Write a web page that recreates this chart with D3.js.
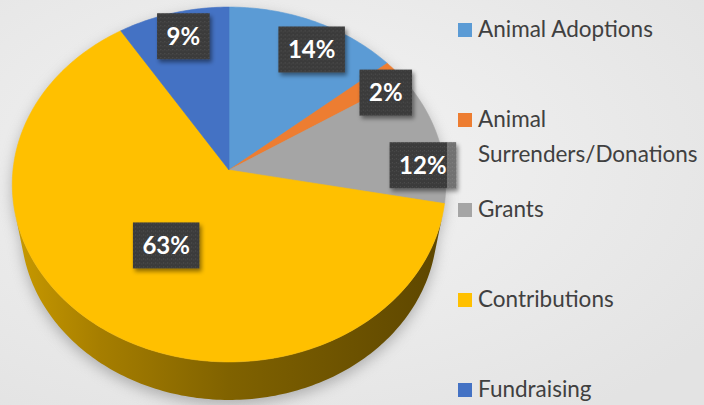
<!DOCTYPE html>
<html>
<head>
<meta charset="utf-8">
<script src="https://cdn.jsdelivr.net/npm/d3@7"></script>
<style>
  html, body { margin: 0; padding: 0; background: #ececec; }
  svg { display: block; }
</style>
</head>
<body>
<div id="chart"></div>
<script>
// revenue sources, clockwise from 12 o'clock
const categories = ['Animal Adoptions', 'Animal Surrenders/Donations', 'Grants', 'Contributions', 'Fundraising'];
const shares = [14, 2, 12, 63, 9];
const colors = ['#5b9bd5', '#ed7d31', '#a5a5a5', '#ffc000', '#4472c4'];
const legendLines = [['Animal Adoptions'], ['Animal', 'Surrenders/Donations'], ['Grants'], ['Contributions'], ['Fundraising']];

// where each data label sits: [fraction across slice, fraction of radius]
const labelAt = [[0.58, 0.83], [1.17, 0.88], [0.71, 0.9], [0.5, 0.5], [0.52, 0.84]];

const width = 704, height = 405;

// camera for the tilted pie (perspective like the office 3-D pie)
const cam = { cx: 229, cy: 170, f: 1527, dist: 7.07, tilt: Math.asin(0.816), depth: 0.355 };

function project(x, y, z) {
  // y is up, z points at the viewer
  const up = y * Math.cos(cam.tilt) - z * Math.sin(cam.tilt);
  const toward = y * Math.sin(cam.tilt) + z * Math.cos(cam.tilt);
  const s = cam.f / (cam.dist - toward);
  return [cam.cx + x * s, cam.cy - up * s];
}
const rim = (a, r, y) => project(r * Math.sin(a), y, -r * Math.cos(a));

const svg = d3.select('#chart').append('svg')
  .attr('width', width)
  .attr('height', height);

const defs = svg.append('defs');

const bg = defs.append('radialGradient').attr('id', 'bg')
  .attr('cx', '40%').attr('cy', '40%').attr('r', '75%');
bg.append('stop').attr('offset', 0).attr('stop-color', '#f4f4f4');
bg.append('stop').attr('offset', 1).attr('stop-color', '#e3e3e3');

const side = defs.append('linearGradient').attr('id', 'side')
  .attr('gradientUnits', 'userSpaceOnUse')
  .attr('x1', 13).attr('x2', 445).attr('y1', 0).attr('y2', 0);
[[0, '#c99a00'], [0.2, '#a67e00'], [0.5, '#806200'], [1, '#5d4600']].forEach(s => {
  side.append('stop').attr('offset', s[0]).attr('stop-color', s[1]);
});

defs.append('filter').attr('id', 'soft')
  .attr('x', '-20%').attr('y', '-20%').attr('width', '140%').attr('height', '140%')
  .append('feGaussianBlur').attr('stdDeviation', 7);

const drop = defs.append('filter').attr('id', 'drop')
  .attr('x', '-30%').attr('y', '-30%').attr('width', '160%').attr('height', '160%');
drop.append('feDropShadow').attr('dx', 2).attr('dy', 3).attr('stdDeviation', 2)
  .attr('flood-color', '#000').attr('flood-opacity', 0.45);

// speckled texture of the label boxes
const pat = defs.append('pattern').attr('id', 'speck')
  .attr('width', 4).attr('height', 4).attr('patternUnits', 'userSpaceOnUse');
pat.append('rect').attr('width', 4).attr('height', 4).attr('fill', '#3b3b3b');
pat.append('rect').attr('x', 1).attr('y', 1).attr('width', 1).attr('height', 1).attr('fill', '#555');
pat.append('rect').attr('x', 3).attr('y', 2).attr('width', 1).attr('height', 1).attr('fill', '#4a4a4a');

svg.append('rect').attr('width', width).attr('height', height).attr('fill', 'url(#bg)');

const pie = d3.pie().sort(null).value(d => d);
const arcs = pie(shares);

const line = d3.line();
const steps = a => d3.range(a.startAngle, a.endAngle, Math.PI / 180).concat([a.endAngle]);

// soft shadow under the whole disc
const full = d3.range(0, 2 * Math.PI + 0.01, Math.PI / 90);
const shadowG = svg.append('g').attr('filter', 'url(#soft)').attr('opacity', 0.6)
  .attr('transform', 'translate(0,5)');
shadowG.append('path').attr('d', line(full.map(a => rim(a, 1, -cam.depth))) + 'Z').attr('fill', '#888');
shadowG.append('path').attr('d', line(full.map(a => rim(a, 1, 0))) + 'Z').attr('fill', '#888');

// outer wall, only the part facing the camera
const limit = Math.acos(-1 / (cam.dist * Math.cos(cam.tilt)));
const visLo = limit, visHi = 2 * Math.PI - limit;

arcs.forEach((a, i) => {
  const lo = Math.max(a.startAngle, visLo), hi = Math.min(a.endAngle, visHi);
  if (hi <= lo) return;
  const angs = d3.range(lo, hi, Math.PI / 180).concat([hi]);
  const top = angs.map(t => rim(t, 1, 0));
  const bot = angs.slice().reverse().map(t => rim(t, 1, -cam.depth));
  svg.append('path')
    .attr('class', 'wall')
    .attr('d', line(top.concat(bot)) + 'Z')
    .attr('fill', i === 3 ? 'url(#side)' : d3.color(colors[i]).darker(1.2));
});

// top faces
svg.selectAll('.slice')
  .data(arcs)
  .enter()
  .append('path')
  .attr('class', 'slice')
  .attr('d', a => line([project(0, 0, 0)].concat(steps(a).map(t => rim(t, 1, 0)))) + 'Z')
  .attr('fill', (a, i) => colors[i])
  .attr('stroke', (a, i) => colors[i])
  .attr('stroke-width', 0.6);

// data labels
const labels = svg.selectAll('.lbl')
  .data(arcs)
  .enter()
  .append('g')
  .attr('class', 'lbl')
  .attr('transform', (a, i) => {
    const t = a.startAngle + (a.endAngle - a.startAngle) * labelAt[i][0];
    const p = rim(t, labelAt[i][1], 0);
    return `translate(${p[0]},${p[1]})`;
  });

labels.append('rect').attr('filter', 'url(#drop)').attr('fill', 'url(#speck)');
labels.append('text')
  .attr('text-anchor', 'middle')
  .attr('dy', '0.36em')
  .attr('fill', '#ffffff')
  .style('font-family', 'Lato, "Open Sans", sans-serif')
  .style('font-weight', 'bold')
  .style('font-size', '24px')
  .text(a => a.data + '%');

labels.each(function() {
  const g = d3.select(this);
  const w = g.select('text').node().getComputedTextLength() + 19;
  g.select('rect').attr('x', -w / 2).attr('y', -23).attr('width', w).attr('height', 46);
});

// the part of the 12% box that hangs past the plot area looks washed out
labels.filter((a, i) => i === 2).each(function() {
  const g = d3.select(this);
  const r = g.select('rect');
  const m = g.attr('transform').match(/translate\(([-\d.]+),/);
  const edge = 447 - (+m[1]);
  const right = +r.attr('x') + +r.attr('width');
  if (right > edge) {
    g.append('rect').attr('x', edge).attr('y', -23).attr('width', right - edge).attr('height', 46)
      .attr('fill', '#ffffff').attr('opacity', 0.28);
  }
});

// legend
const legendY = d3.scalePoint().domain(categories).range([30, 390]);
const legend = svg.selectAll('.leg')
  .data(categories)
  .enter()
  .append('g')
  .attr('class', 'leg')
  .attr('transform', d => `translate(458,${legendY(d)})`);

legend.append('rect')
  .attr('x', 0).attr('y', -7)
  .attr('width', 14).attr('height', 14)
  .attr('fill', (d, i) => colors[i]);

legend.append('text')
  .attr('x', 20)
  .attr('y', 7)
  .attr('fill', '#404040')
  .style('font-family', 'Lato, "Open Sans", sans-serif')
  .style('font-size', '22.5px')
  .selectAll('tspan')
  .data((d, i) => legendLines[i])
  .enter()
  .append('tspan')
  .attr('x', 20)
  .attr('dy', (d, j) => (j === 0 ? 0 : 35))
  .text(d => d);
</script>
</body>
</html>
